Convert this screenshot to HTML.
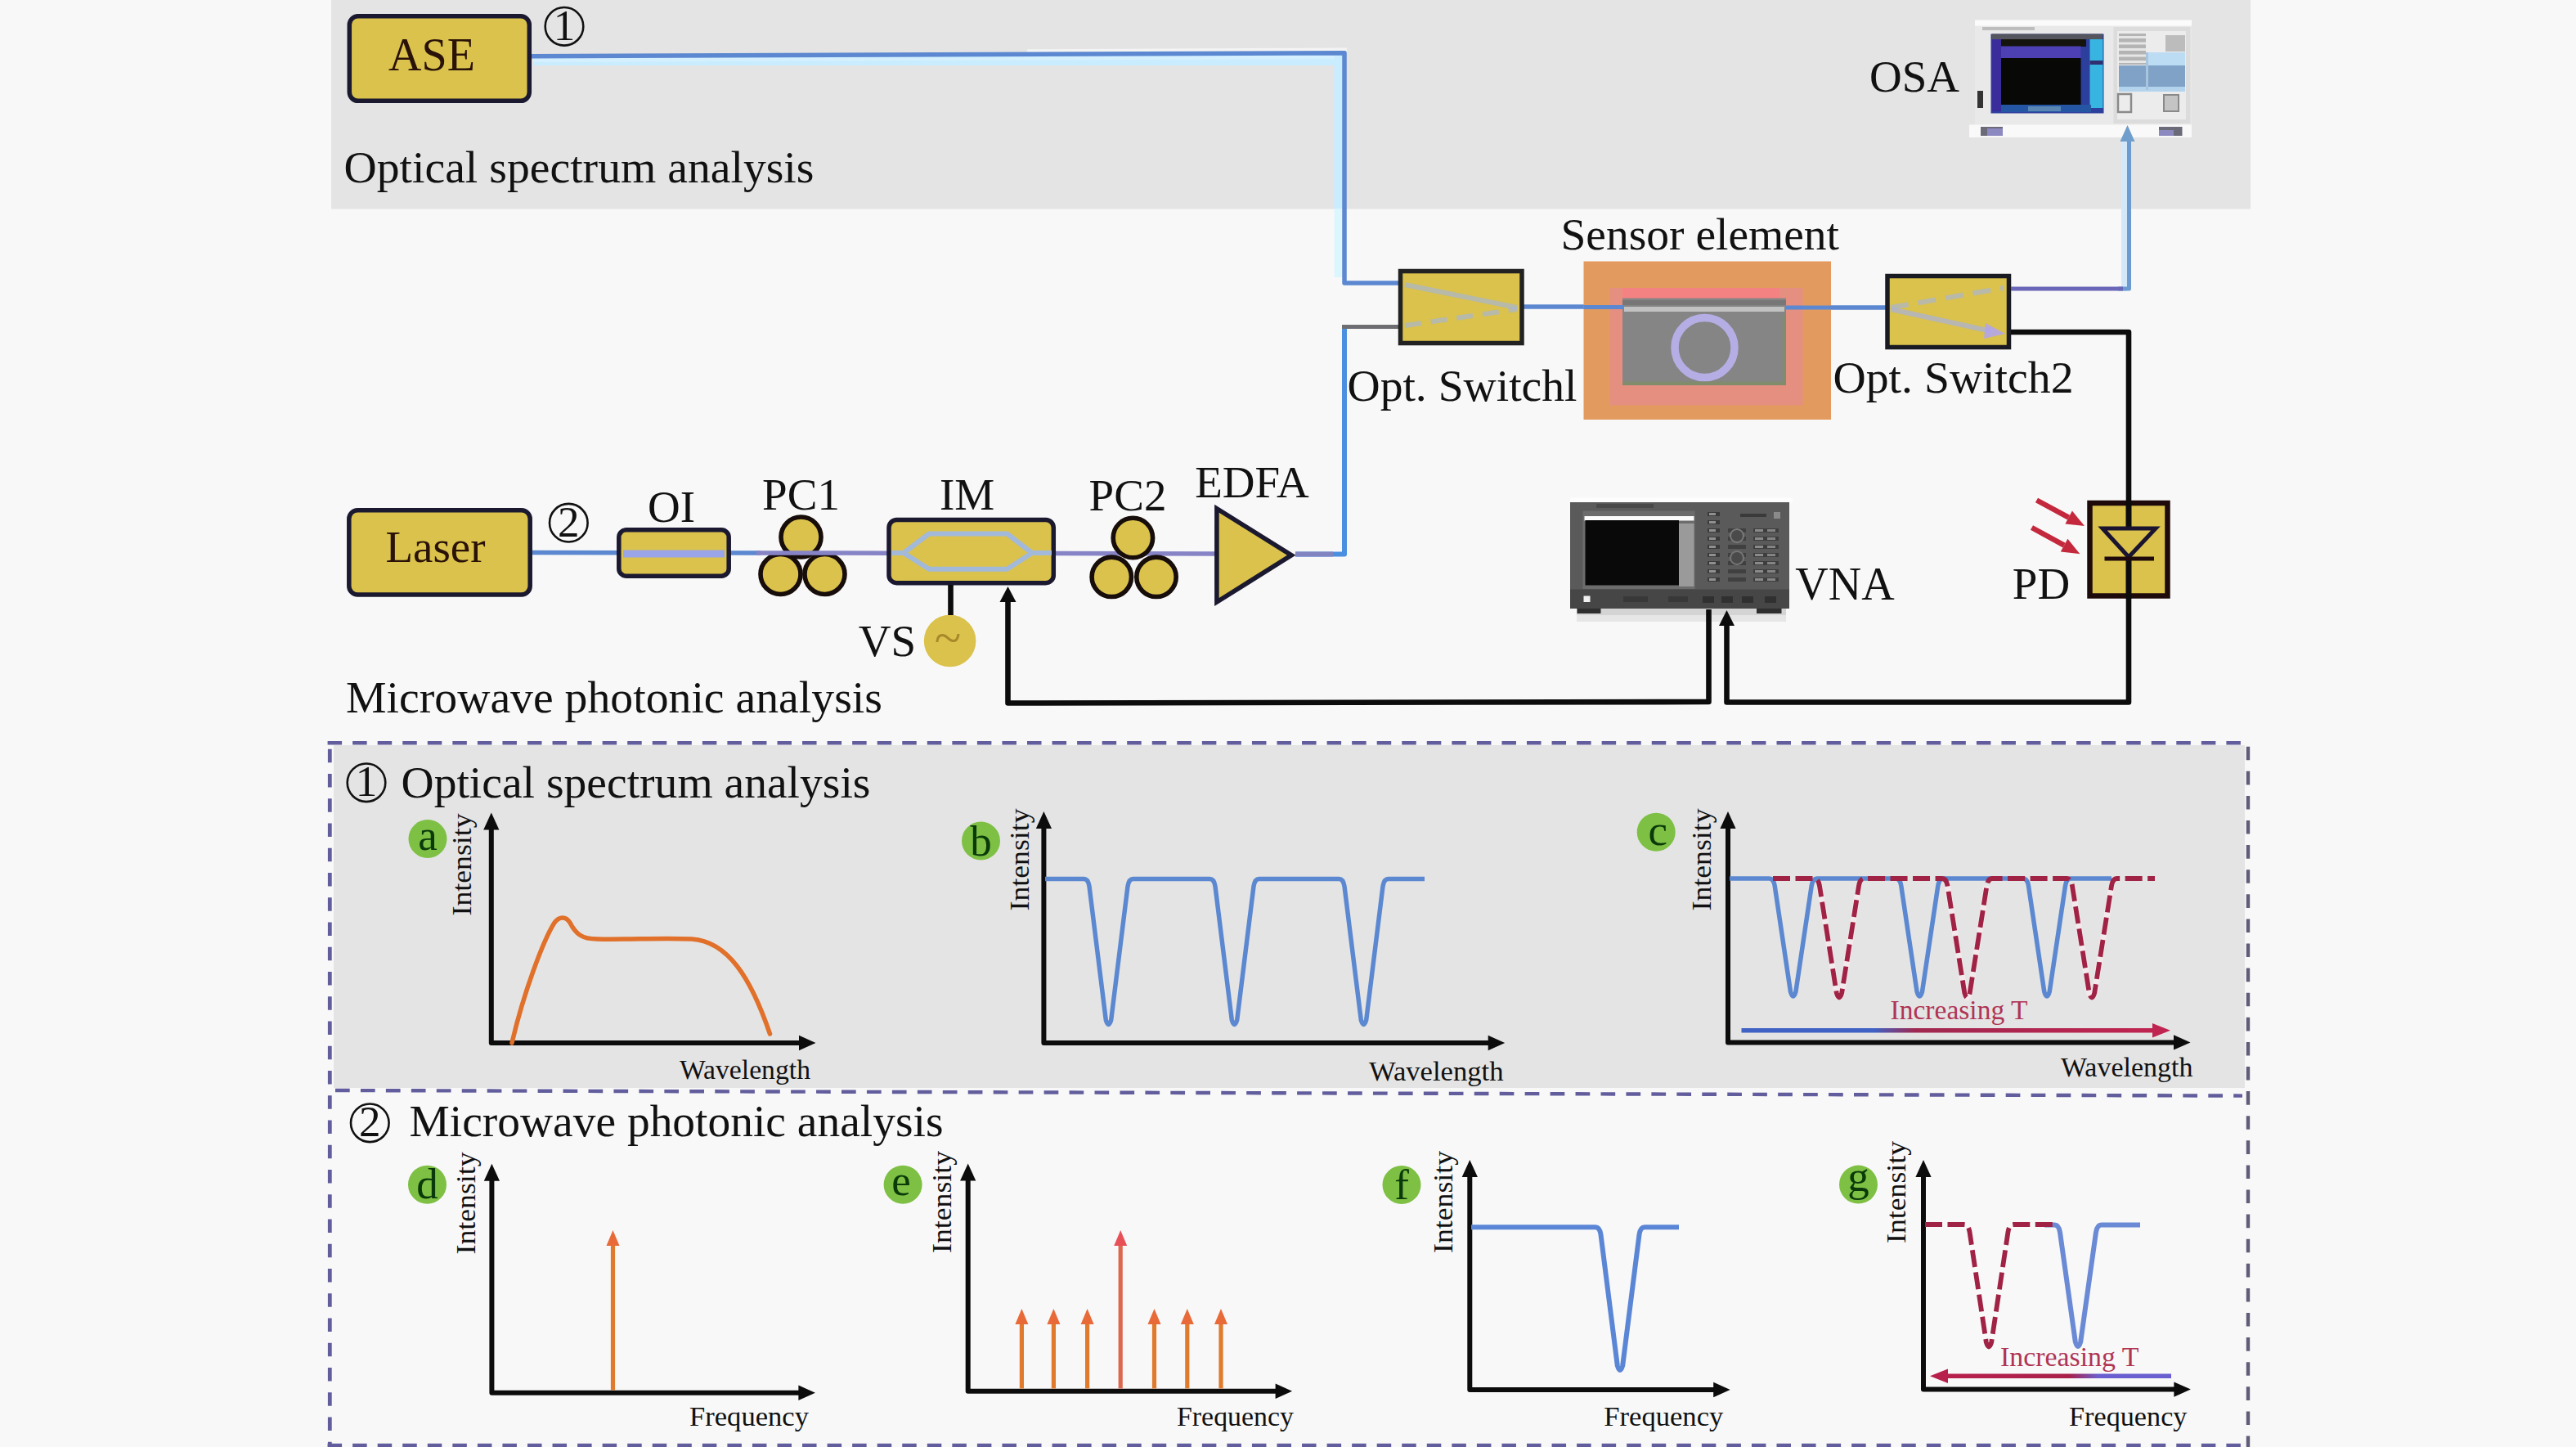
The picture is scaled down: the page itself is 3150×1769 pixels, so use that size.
<!DOCTYPE html>
<html lang="en"><head><meta charset="utf-8"><title>Sensor interrogation setup</title>
<style>html,body{margin:0;padding:0;background:#f8f8f8;}body{width:3150px;height:1769px;overflow:hidden;}svg{display:block;}text{font-family:"Liberation Serif",serif;}</style>
</head><body>
<svg width="3150" height="1769" viewBox="0 0 3150 1769">
<defs>
<linearGradient id="gradC" x1="0" y1="0" x2="1" y2="0"><stop offset="0" stop-color="#3f62c4"/><stop offset="0.32" stop-color="#3f62c4"/><stop offset="0.42" stop-color="#a02850"/><stop offset="1" stop-color="#c02450"/></linearGradient>
<linearGradient id="gradG" x1="0" y1="0" x2="1" y2="0"><stop offset="0" stop-color="#b8204c"/><stop offset="0.55" stop-color="#a8204a"/><stop offset="0.68" stop-color="#6a5fd0"/><stop offset="1" stop-color="#6a5fd0"/></linearGradient>
</defs>
<rect x="0" y="0" width="3150" height="1769" fill="#f8f8f8"/>
<rect x="405" y="0" width="2347" height="255.5" fill="#e4e4e4"/>
<rect x="408" y="911" width="2337" height="419" fill="#e4e4e4"/>
<path d="M652 75.5 L1641 71.5 L1641 80 L652 80 Z" fill="#c9ecff"/>
<path d="M652 71 L1641 67 L1641 72 L652 76 Z" fill="#d4f0ff"/>
<rect x="1631.5" y="68" width="10" height="187" fill="#c9ecff"/><rect x="1631.5" y="255" width="10" height="84" fill="#dcf6ff"/>
<path d="M1256 60.2 L1647 58.6 L1647 62.8 L1256 64.4 Z" fill="#f4f4f4"/>
<g fill="none" stroke="#5b88d0" stroke-width="5.5" stroke-linejoin="round">
<path d="M650 68.8 L1644 64.8 L1644 346 L1712 346"/>
<path d="M1863 375 L1990 375"/>
<path d="M2180 376 L2306 376"/>
<path d="M651 675.5 L930 675.9"/>
</g>
<path d="M1290 676.5 L1490 677" fill="none" stroke="#8684c6" stroke-width="5.5"/>
<path d="M1584 677.5 L1644 677.5 L1644 399.5" fill="none" stroke="#4b8fe0" stroke-width="6" stroke-linejoin="round"/>
<path d="M1584 677.5 L1630 677.5" fill="none" stroke="#8084c0" stroke-width="6"/>
<path d="M1641 399.5 L1712 399.5" fill="none" stroke="#6e6e72" stroke-width="5"/>
<rect x="427.3" y="19.8" width="220" height="103.5" rx="10.5" fill="#dac24c" stroke="#1b1930" stroke-width="5.5"/>
<text x="528" y="85.5" font-size="56" fill="#2a1208" text-anchor="middle" >ASE</text>
<circle cx="690" cy="32.3" r="23.3" fill="none" stroke="#111" stroke-width="2.6"/>
<text x="690" y="48.8" font-size="53" fill="#111" text-anchor="middle" >1</text>
<text x="420.5" y="222.5" font-size="55" fill="#111" text-anchor="start" textLength="575" lengthAdjust="spacingAndGlyphs" >Optical spectrum analysis</text>
<rect x="426.8" y="623.8" width="221.4" height="103.2" rx="10.5" fill="#dac24c" stroke="#1b1930" stroke-width="5.5"/>
<text x="532.5" y="687" font-size="55" fill="#2a1208" text-anchor="middle" >Laser</text>
<circle cx="695.3" cy="639.2" r="23.3" fill="none" stroke="#111" stroke-width="2.6"/>
<text x="695.3" y="655.7" font-size="53" fill="#111" text-anchor="middle" >2</text>
<text x="423" y="870.5" font-size="55" fill="#111" text-anchor="start" textLength="656" lengthAdjust="spacingAndGlyphs" >Microwave photonic analysis</text>
<rect x="756.8" y="647.8" width="134.4" height="56.4" rx="9" fill="#dac24c" stroke="#1b1930" stroke-width="5.5"/>
<path d="M762 677 L886 677" stroke="#9aa4e8" stroke-width="9" fill="none"/>
<text x="821" y="638" font-size="55" fill="#111" text-anchor="middle" >OI</text>
<circle cx="954.5" cy="702" r="24.5" fill="#dac24c" stroke="#170d0a" stroke-width="5.6"/>
<circle cx="1008.5" cy="702" r="24.5" fill="#dac24c" stroke="#170d0a" stroke-width="5.6"/>
<circle cx="979.5" cy="656.5" r="24.5" fill="#dac24c" stroke="#170d0a" stroke-width="5.6"/>
<path d="M925 676 L1086 676.2" stroke="#8684c6" stroke-width="5.5" fill="none"/>
<text x="979.5" y="623" font-size="55" fill="#111" text-anchor="middle" >PC1</text>
<rect x="1087" y="635.5" width="201.3" height="77.2" rx="9.5" fill="#dac24c" stroke="#1b1930" stroke-width="5.5"/>
<path d="M1090 676 L1105 676 L1136 652.5 L1231.5 652.5 L1262 676 L1286 676 M1105 676 L1136 695.8 L1231.5 695.8 L1262 676" stroke="#9cb8ea" stroke-width="6" fill="none" stroke-linejoin="round" opacity="0.9"/>
<text x="1182.5" y="623" font-size="55" fill="#111" text-anchor="middle" >IM</text>
<circle cx="1359.3" cy="705.3" r="24.2" fill="#dac24c" stroke="#170d0a" stroke-width="5.6"/>
<circle cx="1414" cy="705.3" r="24.2" fill="#dac24c" stroke="#170d0a" stroke-width="5.6"/>
<circle cx="1385.4" cy="657.5" r="24.2" fill="#dac24c" stroke="#170d0a" stroke-width="5.6"/>
<text x="1379" y="623.5" font-size="55" fill="#111" text-anchor="middle" >PC2</text>
<path d="M1485.1 616.7 L1584.5 678.8 L1485.1 741.0 Z" fill="#1b1930"/>
<path d="M1490.7 626.8 L1573.9 678.8 L1490.7 730.9 Z" fill="#dac24c"/>
<text x="1531" y="607.5" font-size="55" fill="#111" text-anchor="middle" >EDFA</text>
<circle cx="1161.6" cy="783.5" r="31.8" fill="#dac24c"/>
<text x="1159" y="799.5" font-size="60" fill="#a8882a" text-anchor="middle" >~</text>
<text x="1085" y="802" font-size="55" fill="#111" text-anchor="middle" >VS</text>
<rect x="1712.5" y="331.5" width="148.5" height="88" fill="#dac24c" stroke="#222" stroke-width="5.5"/>
<path d="M1718 348 L1855 376" stroke="#a4b4dc" stroke-width="6" fill="none" opacity="0.65"/>
<path d="M1718 398 L1855 378" stroke="#a4b4dc" stroke-width="6" fill="none" stroke-dasharray="20 12" opacity="0.65"/>
<text x="1647.5" y="489.5" font-size="55" fill="#111" text-anchor="start" textLength="281" lengthAdjust="spacingAndGlyphs" >Opt. Switchl</text>
<rect x="2308" y="337.5" width="148.5" height="87" fill="#dac24c" stroke="#1a1a22" stroke-width="5.5"/>
<path d="M2312 376 L2450 352" stroke="#a8b4dc" stroke-width="6" fill="none" stroke-dasharray="22 12" opacity="0.65"/>
<path d="M2312 378 L2435 405" stroke="#a8b0e0" stroke-width="6" fill="none" opacity="0.7"/>
<path d="M2428 395 L2452 408 L2426 414 Z" fill="#b0a4f0" opacity="0.85"/>
<text x="2241.5" y="480" font-size="55" fill="#111" text-anchor="start" textLength="294" lengthAdjust="spacingAndGlyphs" >Opt. Switch2</text>
<text x="1908.5" y="305" font-size="55" fill="#111" text-anchor="start" textLength="340.5" lengthAdjust="spacingAndGlyphs" >Sensor element</text>
<rect x="1936.5" y="319.5" width="302.5" height="193.5" fill="#e39a5f"/>
<rect x="1968.5" y="352" width="236" height="143.5" fill="#e58f80"/>
<rect x="1984" y="352" width="192" height="13" fill="#f58282"/>
<rect x="1984" y="364.5" width="200" height="106.5" fill="#858585"/>
<rect x="1984" y="466.5" width="200" height="4.5" fill="#808c6c"/>
<rect x="2180" y="385" width="4" height="86" fill="#808c6c"/>
<rect x="1984" y="367" width="200" height="6" fill="#777777"/>
<path d="M1936.5 375.5 L1986 375.5 M2184 376 L2239 376" stroke="#5b88d0" stroke-width="5" fill="none"/>
<path d="M1986 378 L2182 378" stroke="#c2c2c2" stroke-width="6" fill="none"/>
<circle cx="2084.5" cy="425" r="36.5" fill="none" stroke="#b4aee4" stroke-width="9.5"/>
<text x="2341" y="112" font-size="55" fill="#111" text-anchor="middle" >OSA</text>
<g>
<rect x="2415" y="31" width="265" height="122" fill="#e9e9e9"/>
<rect x="2415" y="24.5" width="265" height="7" fill="#fbfbfb"/>
<rect x="2408" y="152.5" width="272" height="15.5" fill="#f9f9f9"/>
<rect x="2422" y="155" width="27" height="11" fill="#6a6a78"/><rect x="2640" y="155" width="28.5" height="11" fill="#6a6a78"/>
<rect x="2430" y="157" width="19" height="9" fill="#8c88c0"/><rect x="2640" y="159" width="18" height="7" fill="#8c88c0"/>
<rect x="2418" y="111" width="7" height="21" fill="#333"/>
<rect x="2424" y="33" width="64" height="4" fill="#bdbdbd"/>
<rect x="2434.5" y="41.5" width="138" height="97" fill="#2c3f9c"/>
<rect x="2436" y="41.5" width="135" height="6.5" fill="#555560"/>
<rect x="2436" y="48" width="11.5" height="88" fill="#3b2c9c"/>
<rect x="2447" y="48" width="104" height="9" fill="#14140c"/>
<rect x="2447" y="56.5" width="97.5" height="15" fill="#4c40b4"/>
<rect x="2447" y="71" width="97.5" height="57" fill="#080806"/>
<rect x="2555.5" y="48" width="16" height="84" fill="#38b4e0"/>
<rect x="2555.5" y="74" width="16" height="5" fill="#303070"/>
<rect x="2447" y="128" width="110" height="9" fill="#2456a4"/>
<rect x="2480" y="130" width="40" height="6" fill="#5a86b4"/>
<rect x="2584.5" y="33" width="94" height="118" fill="#dcdcdc"/>
<rect x="2589" y="38" width="84" height="108" fill="#ececec"/>
<rect x="2591" y="41" width="33" height="38" fill="#b4b4b4"/>
<rect x="2591" y="44.0" width="33" height="3" fill="#e6e6e6"/>
<rect x="2591" y="51.5" width="33" height="3" fill="#e6e6e6"/>
<rect x="2591" y="59.0" width="33" height="3" fill="#e6e6e6"/>
<rect x="2591" y="66.5" width="33" height="3" fill="#e6e6e6"/>
<rect x="2591" y="74.0" width="33" height="3" fill="#e6e6e6"/>
<rect x="2648" y="43" width="24" height="20" fill="#bcbcbc"/>
<rect x="2626" y="64" width="46" height="16" fill="#bcdcf4"/>
<rect x="2591" y="80" width="81" height="28" fill="#7fa2c6"/>
<rect x="2591" y="106" width="81" height="6" fill="#b4d4ee"/>
<rect x="2624" y="64" width="3" height="46" fill="#a8c4de"/>
<rect x="2590" y="115" width="16" height="22" fill="none" stroke="#8a8a8a" stroke-width="2.5"/>
<rect x="2646" y="116" width="18" height="20" fill="#c4c4c4" stroke="#8a8a8a" stroke-width="2"/>
</g>
<g>
<rect x="1928" y="744" width="256" height="8" fill="#d4d4d4"/><rect x="1928" y="752" width="256" height="8" fill="#e6e6e6"/>
<rect x="1920" y="608.5" width="272" height="6" fill="#fdfdfd"/>
<rect x="1920" y="614" width="268" height="130" fill="#5a5a5a"/>
<rect x="1920" y="720.5" width="268" height="23.5" fill="#464646"/>
<rect x="1935.5" y="624.5" width="137" height="95.5" fill="#6c6c6c"/>
<rect x="1937.5" y="631" width="134" height="5.5" fill="#fcfcfc"/>
<rect x="2053" y="640" width="18.5" height="77" fill="#9a9a9a"/>
<rect x="1938.5" y="636" width="114.5" height="79.5" fill="#090909"/>
<rect x="1952" y="616" width="70" height="5" fill="#484848"/>
<rect x="1936.5" y="728.5" width="8" height="7.5" fill="#f0f0f0"/>
<rect x="1928.5" y="744" width="29" height="6" fill="#2e2e2e"/><rect x="2148" y="744" width="30.5" height="6" fill="#2e2e2e"/>
<rect x="2088" y="626" width="15" height="5" fill="#3a3a3a"/>
<rect x="2090" y="627" width="8" height="3" fill="#909090"/>
<rect x="2088" y="636" width="15" height="5" fill="#3a3a3a"/>
<rect x="2090" y="637" width="8" height="3" fill="#909090"/>
<rect x="2088" y="646" width="15" height="5" fill="#3a3a3a"/>
<rect x="2090" y="647" width="8" height="3" fill="#909090"/>
<rect x="2113" y="646" width="22" height="5" fill="#404040"/>
<rect x="2144" y="646" width="31" height="5" fill="#3e3e3e"/>
<rect x="2146" y="647" width="10" height="3" fill="#8a8a8a"/><rect x="2161" y="647" width="10" height="3" fill="#848484"/>
<rect x="2088" y="656" width="15" height="5" fill="#3a3a3a"/>
<rect x="2090" y="657" width="8" height="3" fill="#909090"/>
<rect x="2113" y="656" width="22" height="5" fill="#404040"/>
<rect x="2144" y="656" width="31" height="5" fill="#3e3e3e"/>
<rect x="2146" y="657" width="10" height="3" fill="#8a8a8a"/><rect x="2161" y="657" width="10" height="3" fill="#848484"/>
<rect x="2088" y="666" width="15" height="5" fill="#3a3a3a"/>
<rect x="2090" y="667" width="8" height="3" fill="#909090"/>
<rect x="2113" y="666" width="22" height="5" fill="#404040"/>
<rect x="2144" y="666" width="31" height="5" fill="#3e3e3e"/>
<rect x="2146" y="667" width="10" height="3" fill="#8a8a8a"/><rect x="2161" y="667" width="10" height="3" fill="#848484"/>
<rect x="2088" y="676" width="15" height="5" fill="#3a3a3a"/>
<rect x="2090" y="677" width="8" height="3" fill="#909090"/>
<rect x="2113" y="676" width="22" height="5" fill="#404040"/>
<rect x="2144" y="676" width="31" height="5" fill="#3e3e3e"/>
<rect x="2146" y="677" width="10" height="3" fill="#8a8a8a"/><rect x="2161" y="677" width="10" height="3" fill="#848484"/>
<rect x="2088" y="686" width="15" height="5" fill="#3a3a3a"/>
<rect x="2090" y="687" width="8" height="3" fill="#909090"/>
<rect x="2113" y="686" width="22" height="5" fill="#404040"/>
<rect x="2144" y="686" width="31" height="5" fill="#3e3e3e"/>
<rect x="2146" y="687" width="10" height="3" fill="#8a8a8a"/><rect x="2161" y="687" width="10" height="3" fill="#848484"/>
<rect x="2088" y="696" width="15" height="5" fill="#3a3a3a"/>
<rect x="2090" y="697" width="8" height="3" fill="#909090"/>
<rect x="2113" y="696" width="22" height="5" fill="#404040"/>
<rect x="2144" y="696" width="31" height="5" fill="#3e3e3e"/>
<rect x="2146" y="697" width="10" height="3" fill="#8a8a8a"/><rect x="2161" y="697" width="10" height="3" fill="#848484"/>
<rect x="2088" y="706" width="15" height="5" fill="#3a3a3a"/>
<rect x="2090" y="707" width="8" height="3" fill="#909090"/>
<rect x="2113" y="706" width="22" height="5" fill="#404040"/>
<rect x="2144" y="706" width="31" height="5" fill="#3e3e3e"/>
<rect x="2146" y="707" width="10" height="3" fill="#8a8a8a"/><rect x="2161" y="707" width="10" height="3" fill="#848484"/>
<circle cx="2124" cy="655" r="8" fill="#4a4a4a" stroke="#7a7a7a" stroke-width="2"/>
<circle cx="2124" cy="682" r="8" fill="#4a4a4a" stroke="#767676" stroke-width="2"/>
<rect x="2128" y="628" width="32" height="4" fill="#3a3a3a"/>
<rect x="2169" y="626" width="8" height="8" fill="#8a8a8a"/>
<rect x="2082" y="729" width="14" height="8" fill="#303030"/>
<rect x="2105" y="729" width="14" height="8" fill="#303030"/>
<rect x="2130" y="729" width="14" height="8" fill="#303030"/>
<rect x="2158" y="729" width="14" height="8" fill="#303030"/>
<rect x="1985" y="729" width="30" height="7" fill="#383838"/><rect x="2040" y="729" width="24" height="7" fill="#383838"/>
</g>
<text x="2256" y="732.5" font-size="56" fill="#111" text-anchor="middle" >VNA</text>
<path d="M2597.5 356 L2597.5 172" fill="none" stroke="#d3e9fa" stroke-width="7"/>
<path d="M2590 353 L2603.5 353 L2603.5 172" fill="none" stroke="#6b9bd0" stroke-width="5" stroke-linejoin="round"/>
<path d="M2459 353 L2596 353" fill="none" stroke="#6a66b8" stroke-width="5.2"/>
<path d="M2592.5 173 L2601.5 153 L2610.5 173 Z" fill="#6f9dcc"/>
<g fill="none" stroke="#0c0c0c" stroke-width="6.6" stroke-linejoin="round">
<path d="M2459 406 L2603 406 L2603 858.5 L2111.5 858.5 L2111.5 760"/>
<path d="M2089.5 745 L2089.5 858 L1232.5 859.5 L1232.5 733"/>
<path d="M1162.5 715 L1162.5 752"/>
</g>
<path d="M2102 765 L2111.5 746 L2121 765 Z" fill="#0c0c0c"/>
<path d="M1222.5 736 L1232.5 717 L1242.5 736 Z" fill="#0c0c0c"/>
<rect x="2555.5" y="615" width="95" height="113.5" fill="#dac24c" stroke="#1e0a0a" stroke-width="6.5"/>
<path d="M2603 612 L2603 648 M2603 682 L2603 732" stroke="#0c0c0c" stroke-width="7" fill="none"/>
<path d="M2571 646 L2636 646 L2603 681 Z" fill="none" stroke="#1a1430" stroke-width="5"/>
<path d="M2573.5 683 L2634 683" stroke="#1e0a0a" stroke-width="5" fill="none"/>
<path d="M2490.5 611.5 L2529.6 632.6" stroke="#c4283c" stroke-width="6.5" fill="none"/>
<path d="M2549.0 643.0 L2525.4 640.5 L2533.9 624.6 Z" fill="#c4283c"/>
<path d="M2484.5 645.0 L2524.1 666.6" stroke="#c4283c" stroke-width="6.5" fill="none"/>
<path d="M2543.4 677.2 L2519.8 674.5 L2528.4 658.7 Z" fill="#c4283c"/>
<text x="2496" y="732" font-size="55" fill="#111" text-anchor="middle" >PD</text>
<g fill="none" stroke="#625d9c" stroke-width="4.4">
<path d="M400.6 908.2 L2742 908.2" stroke-dasharray="17.5 13.05"/>
<path d="M410 1333 L2742 1339.6" stroke-dasharray="17.7 13.25"/>
<path d="M400.6 1767 L2746 1767" stroke-dasharray="17.5 13.05"/>
<path d="M403.3 915.7 L403.3 1769" stroke-dasharray="16.5 13.75" stroke-width="4.8"/>
<path d="M2749 912.7 L2749 1769" stroke-dasharray="16.6 13.5" stroke="#605d78" stroke-width="4.4"/>
</g>
<circle cx="448" cy="956.8" r="23.3" fill="none" stroke="#111" stroke-width="2.6"/>
<text x="448" y="973.3" font-size="53" fill="#111" text-anchor="middle" >1</text>
<text x="490.5" y="975" font-size="55" fill="#111" text-anchor="start" textLength="574" lengthAdjust="spacingAndGlyphs" >Optical spectrum analysis</text>
<circle cx="452.3" cy="1372.8" r="23.3" fill="none" stroke="#111" stroke-width="2.6"/>
<text x="452.3" y="1389.3" font-size="53" fill="#111" text-anchor="middle" >2</text>
<text x="500.5" y="1389.3" font-size="55" fill="#111" text-anchor="start" textLength="653" lengthAdjust="spacingAndGlyphs" >Microwave photonic analysis</text>
<circle cx="523" cy="1025.5" r="23.5" fill="#7ec044"/>
<text x="523" y="1038.5" font-size="53" fill="#0a3a0a" text-anchor="middle">a</text>
<path d="M600.8 1007.5 L600.8 1275 L983.5 1275" fill="none" stroke="#0c0c0c" stroke-width="6" stroke-linejoin="round"/>
<path d="M591.1999999999999 1014.5 L600.8 993.5 L610.4 1014.5 Z" fill="#0c0c0c"/>
<path d="M977.0 1265.8 L997.5 1275 L977.0 1284.2 Z" fill="#0c0c0c"/>
<text transform="translate(575.5,1119.5) rotate(-90)" font-size="34" fill="#111" textLength="125" lengthAdjust="spacingAndGlyphs">Intensity</text>
<text x="831" y="1318.5" font-size="34" fill="#111" text-anchor="start" textLength="160" lengthAdjust="spacingAndGlyphs" >Wavelength</text>
<path d="M626 1275 C640 1215 664 1150 678 1128 C684 1120 692 1120 697 1128 C704 1142 712 1148 730 1148 C770 1149 810 1146 846 1148 C890 1151 918 1195 941.5 1264" fill="none" stroke="#e0702a" stroke-width="5.5" stroke-linecap="round"/>
<circle cx="1199.5" cy="1028" r="23.5" fill="#7ec044"/>
<text x="1199.5" y="1046" font-size="53" fill="#0a3a0a" text-anchor="middle">b</text>
<path d="M1276.4 1006.0 L1276.4 1275 L1826.2 1275" fill="none" stroke="#0c0c0c" stroke-width="6" stroke-linejoin="round"/>
<path d="M1266.8000000000002 1013.0 L1276.4 992.0 L1286.0 1013.0 Z" fill="#0c0c0c"/>
<path d="M1819.7 1265.8 L1840.2 1275 L1819.7 1284.2 Z" fill="#0c0c0c"/>
<text transform="translate(1258.3,1113.5) rotate(-90)" font-size="34" fill="#111" textLength="125" lengthAdjust="spacingAndGlyphs">Intensity</text>
<text x="1674" y="1321" font-size="34" fill="#111" text-anchor="start" textLength="164.5" lengthAdjust="spacingAndGlyphs" >Wavelength</text>
<path d="M1278 1074.5 L1325.5 1074.5 Q1330.5 1074.5 1332.0 1083.5 L1352.3 1247 Q1355.5 1258 1358.7 1247 L1379.0 1083.5 Q1380.5 1074.5 1385.5 1074.5 L1479.5 1074.5 Q1484.5 1074.5 1486.0 1083.5 L1506.3 1247 Q1509.5 1258 1512.7 1247 L1533.0 1083.5 Q1534.5 1074.5 1539.5 1074.5 L1637.5 1074.5 Q1642.5 1074.5 1644.0 1083.5 L1664.3 1247 Q1667.5 1258 1670.7 1247 L1691.0 1083.5 Q1692.5 1074.5 1697.5 1074.5 L1742 1074.5" fill="none" stroke="#5b88d0" stroke-width="5.5" stroke-linejoin="round"/>
<circle cx="2025.2" cy="1017.2" r="23.5" fill="#7ec044"/>
<text x="2027.2" y="1033.2" font-size="53" fill="#0a3a0a" text-anchor="middle">c</text>
<path d="M2113 1006.0 L2113 1274.4 L2664.5 1274.4" fill="none" stroke="#0c0c0c" stroke-width="6" stroke-linejoin="round"/>
<path d="M2103.4 1013.0 L2113 992.0 L2122.6 1013.0 Z" fill="#0c0c0c"/>
<path d="M2658.0 1265.2 L2678.5 1274.4 L2658.0 1283.6000000000001 Z" fill="#0c0c0c"/>
<text transform="translate(2092,1113.5) rotate(-90)" font-size="34" fill="#111" textLength="125" lengthAdjust="spacingAndGlyphs">Intensity</text>
<text x="2520" y="1315.5" font-size="34" fill="#111" text-anchor="start" textLength="161.5" lengthAdjust="spacingAndGlyphs" >Wavelength</text>
<path d="M2115 1074 L2163.7 1074 Q2168.7 1074 2170.2 1083 L2189.5 1212.5 Q2192.7 1223.5 2195.8999999999996 1212.5 L2215.2 1083 Q2216.7 1074 2221.7 1074 L2318.3 1074 Q2323.3 1074 2324.8 1083 L2344.1000000000004 1212.5 Q2347.3 1223.5 2350.5 1212.5 L2369.8 1083 Q2371.3 1074 2376.3 1074 L2474 1074 Q2479 1074 2480.5 1083 L2499.8 1212.5 Q2503 1223.5 2506.2 1212.5 L2525.5 1083 Q2527 1074 2532 1074 L2582 1074" fill="none" stroke="#5b88d0" stroke-width="5.5" stroke-linejoin="round"/>
<path d="M2225.0 1083 L2245.8 1214 Q2249 1225 2252.2 1214 L2273.0 1083 M2381.5 1083 L2402.3 1214 Q2405.5 1225 2408.7 1214 L2429.5 1083 M2534.0 1083 L2554.8 1214 Q2558 1225 2561.2 1214 L2582.0 1083 " fill="none" stroke="#f3e9ec" stroke-width="7.5" stroke-linejoin="round"/>
<path d="M2168 1074 L2218.5 1074 Q2223.5 1074 2225.0 1083 L2245.8 1214 Q2249 1225 2252.2 1214 L2273.0 1083 Q2274.5 1074 2279.5 1074 L2375.0 1074 Q2380.0 1074 2381.5 1083 L2402.3 1214 Q2405.5 1225 2408.7 1214 L2429.5 1083 Q2431.0 1074 2436.0 1074 L2527.5 1074 Q2532.5 1074 2534.0 1083 L2554.8 1214 Q2558 1225 2561.2 1214 L2582.0 1083 Q2583.5 1074 2588.5 1074 L2635 1074" fill="none" stroke="#a02244" stroke-width="5.8" stroke-dasharray="21 6.5" stroke-linejoin="round"/>
<text x="2311.5" y="1245.5" font-size="34" fill="#b03454" text-anchor="start" textLength="168" lengthAdjust="spacingAndGlyphs" >Increasing T</text>
<rect x="2129.5" y="1257" width="506" height="5.5" fill="url(#gradC)"/>
<path d="M2632 1251 L2654 1259.7 L2632 1268.5 Z" fill="#c02450"/>
<circle cx="522.5" cy="1448.2" r="23.5" fill="#7ec044"/>
<text x="522.5" y="1465.2" font-size="53" fill="#0a3a0a" text-anchor="middle">d</text>
<path d="M601.4 1436.7 L601.4 1702.7 L982.9 1702.7" fill="none" stroke="#0c0c0c" stroke-width="6" stroke-linejoin="round"/>
<path d="M591.8 1443.7 L601.4 1422.7 L611.0 1443.7 Z" fill="#0c0c0c"/>
<path d="M976.4 1693.5 L996.9 1702.7 L976.4 1711.9 Z" fill="#0c0c0c"/>
<text transform="translate(581,1533.5) rotate(-90)" font-size="34" fill="#111" textLength="125" lengthAdjust="spacingAndGlyphs">Intensity</text>
<text x="843" y="1743" font-size="34" fill="#111" text-anchor="start" textLength="146" lengthAdjust="spacingAndGlyphs" >Frequency</text>
<path d="M749.5 1699.5 L749.5 1520" stroke="#e07a2c" stroke-width="5.2" fill="none"/>
<path d="M741.5 1523 L749.5 1504 L757.5 1523 Z" fill="#e86a38"/>
<circle cx="1104.1" cy="1448.2" r="23.5" fill="#7ec044"/>
<text x="1102.1" y="1460.7" font-size="53" fill="#0a3a0a" text-anchor="middle">e</text>
<path d="M1183.7 1436.5 L1183.7 1700.8 L1566.1 1700.8" fill="none" stroke="#0c0c0c" stroke-width="6" stroke-linejoin="round"/>
<path d="M1174.1000000000001 1443.5 L1183.7 1422.5 L1193.3 1443.5 Z" fill="#0c0c0c"/>
<path d="M1559.6 1691.6 L1580.1 1700.8 L1559.6 1710.0 Z" fill="#0c0c0c"/>
<text transform="translate(1162.6,1532.0) rotate(-90)" font-size="34" fill="#111" textLength="125" lengthAdjust="spacingAndGlyphs">Intensity</text>
<text x="1439" y="1743" font-size="34" fill="#111" text-anchor="start" textLength="143" lengthAdjust="spacingAndGlyphs" >Frequency</text>
<path d="M1249.4 1697.5 L1249.4 1616" stroke="#e07a2c" stroke-width="5.2" fill="none"/>
<path d="M1241.4 1619 L1249.4 1600 L1257.4 1619 Z" fill="#e86a38"/>
<path d="M1288.4 1697.5 L1288.4 1616" stroke="#e07a2c" stroke-width="5.2" fill="none"/>
<path d="M1280.4 1619 L1288.4 1600 L1296.4 1619 Z" fill="#e86a38"/>
<path d="M1329.6 1697.5 L1329.6 1616" stroke="#e07a2c" stroke-width="5.2" fill="none"/>
<path d="M1321.6 1619 L1329.6 1600 L1337.6 1619 Z" fill="#e86a38"/>
<path d="M1411.5 1697.5 L1411.5 1616" stroke="#e07a2c" stroke-width="5.2" fill="none"/>
<path d="M1403.5 1619 L1411.5 1600 L1419.5 1619 Z" fill="#e86a38"/>
<path d="M1451.8 1697.5 L1451.8 1616" stroke="#e07a2c" stroke-width="5.2" fill="none"/>
<path d="M1443.8 1619 L1451.8 1600 L1459.8 1619 Z" fill="#e86a38"/>
<path d="M1493 1697.5 L1493 1616" stroke="#e07a2c" stroke-width="5.2" fill="none"/>
<path d="M1485 1619 L1493 1600 L1501 1619 Z" fill="#e86a38"/>
<path d="M1370.2 1697.5 L1370.2 1520" stroke="#dc6850" stroke-width="5.2" fill="none"/>
<path d="M1362.2 1523 L1370.2 1504 L1378.2 1523 Z" fill="#e85058"/>
<circle cx="1714" cy="1448.5" r="23.5" fill="#7ec044"/>
<text x="1714" y="1465.5" font-size="53" fill="#0a3a0a" text-anchor="middle">f</text>
<path d="M1797.3 1431.9 L1797.3 1699 L2101.7 1699" fill="none" stroke="#0c0c0c" stroke-width="6" stroke-linejoin="round"/>
<path d="M1787.7 1438.9 L1797.3 1417.9 L1806.8999999999999 1438.9 Z" fill="#0c0c0c"/>
<path d="M2095.2 1689.8 L2115.7 1699 L2095.2 1708.2 Z" fill="#0c0c0c"/>
<text transform="translate(1776.4,1532.0) rotate(-90)" font-size="34" fill="#111" textLength="125" lengthAdjust="spacingAndGlyphs">Intensity</text>
<text x="1961.3" y="1743" font-size="34" fill="#111" text-anchor="start" textLength="146" lengthAdjust="spacingAndGlyphs" >Frequency</text>
<path d="M1799 1500.3 L1951 1500.3 Q1956 1500.3 1957.5 1509.3 L1977.8 1669.5 Q1981 1680.5 1984.2 1669.5 L2004.5 1509.3 Q2006 1500.3 2011 1500.3 L2053 1500.3" fill="none" stroke="#5b86d6" stroke-width="6" stroke-linejoin="round"/>
<circle cx="2272.5" cy="1448.1" r="23.5" fill="#7ec044"/>
<text x="2272.5" y="1456.1" font-size="53" fill="#0a3a0a" text-anchor="middle">g</text>
<path d="M2352 1431.9 L2352 1698.6 L2664.9 1698.6" fill="none" stroke="#0c0c0c" stroke-width="6" stroke-linejoin="round"/>
<path d="M2342.4 1438.9 L2352 1417.9 L2361.6 1438.9 Z" fill="#0c0c0c"/>
<path d="M2658.4 1689.3999999999999 L2678.9 1698.6 L2658.4 1707.8 Z" fill="#0c0c0c"/>
<text transform="translate(2330,1520.0) rotate(-90)" font-size="34" fill="#111" textLength="125" lengthAdjust="spacingAndGlyphs">Intensity</text>
<text x="2530" y="1743" font-size="34" fill="#111" text-anchor="start" textLength="144.5" lengthAdjust="spacingAndGlyphs" >Frequency</text>
<path d="M2500 1497.5 L2512.5 1497.5 Q2517.5 1497.5 2519.0 1506.5 L2537.8 1640.5 Q2541 1651.5 2544.2 1640.5 L2563.0 1506.5 Q2564.5 1497.5 2569.5 1497.5 L2617 1497.5" fill="none" stroke="#6a8ad6" stroke-width="6" stroke-linejoin="round"/>
<path d="M2354 1497 L2402 1497 Q2407 1497 2408.5 1506 L2428.8 1641 Q2432 1652 2435.2 1641 L2455.5 1506 Q2457 1497 2462 1497 L2512 1497" fill="none" stroke="#a02244" stroke-width="5.8" stroke-dasharray="21 6.5" stroke-linejoin="round"/>
<text x="2446" y="1670" font-size="34" fill="#b03454" text-anchor="start" textLength="169.5" lengthAdjust="spacingAndGlyphs" >Increasing T</text>
<rect x="2378" y="1679.5" width="277" height="5.5" fill="url(#gradG)"/>
<path d="M2382 1673.5 L2360 1682.2 L2382 1691 Z" fill="#b8204c"/>
</svg>
</body></html>
